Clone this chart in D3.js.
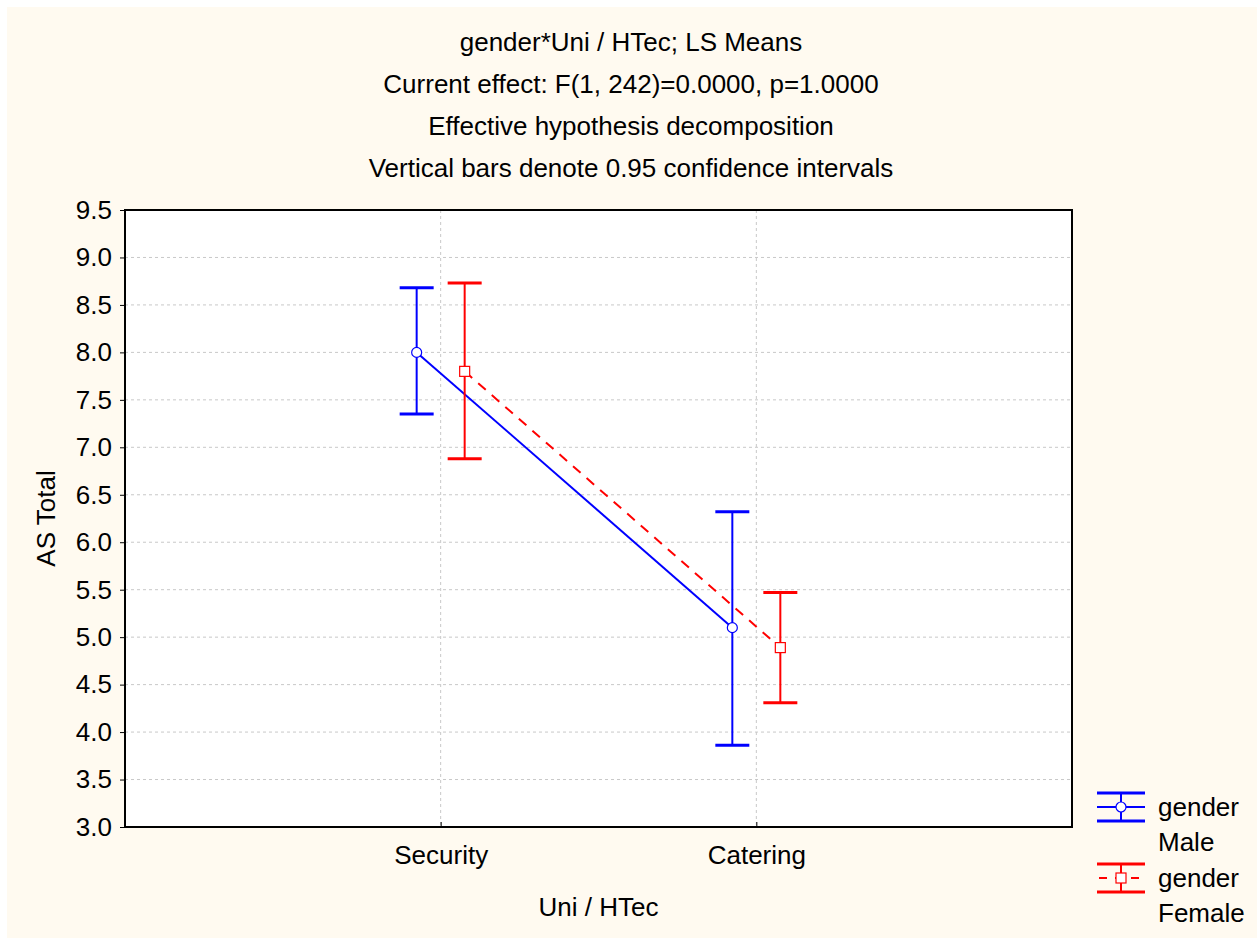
<!DOCTYPE html>
<html>
<head>
<meta charset="utf-8">
<script src="https://cdn.jsdelivr.net/npm/d3@7"></script>
<style>
body { margin: 0; background: #fff; }
text { font-family: "Liberation Sans", Arial, sans-serif; fill: #000; }
</style>
</head>
<body>
<div id="chart"></div>
<script>
var titleLines = ["gender*Uni / HTec; LS Means",
	"Current effect: F(1, 242)=0.0000, p=1.0000",
	"Effective hypothesis decomposition",
	"Vertical bars denote 0.95 confidence intervals"];
var categories = ["Security", "Catering"];
var yTicks = [3.0, 3.5, 4.0, 4.5, 5.0, 5.5, 6.0, 6.5, 7.0, 7.5, 8.0, 8.5, 9.0, 9.5];
var maleMean = [8.00, 5.10];
var maleLow = [7.35, 3.86];
var maleHigh = [8.68, 6.32];
var femaleMean = [7.80, 4.89];
var femaleLow = [6.88, 4.31];
var femaleHigh = [8.73, 5.47];

var width = 1257, height = 938;
var margin = {left: 125, right: 185, top: 210, bottom: 111};
var fontSize = "26px";

var svg = d3.select("#chart").append("svg")
	.attr("width", width)
	.attr("height", height);

svg.append("rect")
	.attr("x", 7).attr("y", 7)
	.attr("width", width - 7).attr("height", height - 7)
	.style("fill", "#fffaf0");

var x = d3.scalePoint()
	.domain(categories)
	.range([margin.left, width - margin.right])
	.padding(1);
var y = d3.scaleLinear()
	.domain([3, 9.5])
	.range([height - margin.bottom, margin.top]);

// titles
svg.selectAll(".title")
	.data(titleLines)
	.enter().append("text")
	.attr("class", "title")
	.attr("x", 631)
	.attr("y", function(d, i){ return 51 + i * 42; })
	.style("text-anchor", "middle")
	.style("font-size", fontSize)
	.text(function(d){ return d; });

// plot bg
svg.append("rect")
	.attr("x", margin.left).attr("y", margin.top)
	.attr("width", width - margin.right - margin.left)
	.attr("height", height - margin.bottom - margin.top)
	.style("fill", "#fff");

// grid
var grid = svg.append("g");
grid.selectAll(".hgrid")
	.data(yTicks.slice(1, -1))
	.enter().append("line")
	.attr("x1", margin.left).attr("x2", width - margin.right)
	.attr("y1", function(d){ return y(d); })
	.attr("y2", function(d){ return y(d); })
	.style("stroke", "#c8c8c8")
	.style("stroke-dasharray", "3,3");
grid.selectAll(".vgrid")
	.data(categories)
	.enter().append("line")
	.attr("x1", function(d){ return x(d); })
	.attr("x2", function(d){ return x(d); })
	.attr("y1", margin.top).attr("y2", height - margin.bottom)
	.style("stroke", "#c8c8c8")
	.style("stroke-dasharray", "3,3");

// axes
var yAxis = svg.append("g")
	.attr("transform", "translate(" + margin.left + ",0)")
	.call(d3.axisLeft(y).tickValues(yTicks).tickFormat(d3.format(".1f")).tickSize(5).tickPadding(8));
var xAxis = svg.append("g")
	.attr("transform", "translate(0," + (height - margin.bottom) + ")")
	.call(d3.axisBottom(x).tickSize(-5).tickPadding(19));
[yAxis, xAxis].forEach(function(a){
	a.select(".domain").remove();
	a.selectAll("line").style("stroke", "#000");
	a.selectAll("text").style("font-size", fontSize).style("font-family", "Liberation Sans, Arial, sans-serif");
});

svg.append("rect")
	.attr("x", margin.left).attr("y", margin.top)
	.attr("width", width - margin.right - margin.left)
	.attr("height", height - margin.bottom - margin.top)
	.style("fill", "none")
	.style("stroke", "#000")
	.style("stroke-width", 2);

svg.append("text")
	.attr("transform", "translate(55," + ((margin.top + height - margin.bottom) / 2) + ") rotate(-90)")
	.style("text-anchor", "middle")
	.style("font-size", fontSize)
	.text("AS Total");
svg.append("text")
	.attr("x", (margin.left + width - margin.right) / 2)
	.attr("y", 916)
	.style("text-anchor", "middle")
	.style("font-size", fontSize)
	.text("Uni / HTec");

// series
var series = [
	{name: "Male", mean: maleMean, low: maleLow, high: maleHigh, color: "#0000ff", off: -24, dash: null, shape: "circle"},
	{name: "Female", mean: femaleMean, low: femaleLow, high: femaleHigh, color: "#ff0000", off: 24, dash: "10,8", shape: "square"}
];

series.forEach(function(s){
	var g = svg.append("g");
	var pts = categories.map(function(c, i){ return {c: c, m: s.mean[i], lo: s.low[i], hi: s.high[i]}; });
	var px = function(d){ return x(d.c) + s.off; };

	g.append("path")
		.datum(pts)
		.attr("d", d3.line().x(px).y(function(d){ return y(d.m); }))
		.style("fill", "none")
		.style("stroke", s.color)
		.style("stroke-width", 2)
		.style("stroke-dasharray", s.dash);

	g.selectAll(".bar").data(pts).enter().append("line")
		.attr("x1", px).attr("x2", px)
		.attr("y1", function(d){ return y(d.lo); })
		.attr("y2", function(d){ return y(d.hi); })
		.style("stroke", s.color).style("stroke-width", 2);
	["lo", "hi"].forEach(function(k){
		g.selectAll(".cap" + k).data(pts).enter().append("line")
			.attr("x1", function(d){ return px(d) - 17; })
			.attr("x2", function(d){ return px(d) + 17; })
			.attr("y1", function(d){ return y(d[k]); })
			.attr("y2", function(d){ return y(d[k]); })
			.style("stroke", s.color).style("stroke-width", 3);
	});
	if (s.shape == "circle") {
		g.selectAll(".mk").data(pts).enter().append("circle")
			.attr("cx", px).attr("cy", function(d){ return y(d.m); })
			.attr("r", 5)
			.style("fill", "#fff").style("stroke", s.color).style("stroke-width", 1.2);
	} else {
		g.selectAll(".mk").data(pts).enter().append("rect")
			.attr("x", function(d){ return px(d) - 5; })
			.attr("y", function(d){ return y(d.m) - 5; })
			.attr("width", 10).attr("height", 10)
			.style("fill", "#fff").style("stroke", s.color).style("stroke-width", 1.2);
	}
});

// legend
var leg = svg.append("g").attr("transform", "translate(1097,807)");
series.forEach(function(s, i){
	var lg = leg.append("g").attr("transform", "translate(0," + (i * 71) + ")");
	lg.append("line").attr("x1", 0).attr("x2", 48).attr("y1", 0).attr("y2", 0)
		.style("stroke", s.color).style("stroke-width", 2).style("stroke-dasharray", s.dash ? "8,8" : null)
		.style("stroke-dashoffset", s.dash ? -2 : null);
	[-14, 14].forEach(function(cy){
		lg.append("line").attr("x1", 0).attr("x2", 48).attr("y1", cy).attr("y2", cy)
			.style("stroke", s.color).style("stroke-width", 3);
	});
	lg.append("line").attr("x1", 24).attr("x2", 24).attr("y1", -14).attr("y2", 14)
		.style("stroke", s.color).style("stroke-width", 2);
	if (s.shape == "circle") {
		lg.append("circle").attr("cx", 24).attr("cy", 0).attr("r", 5)
			.style("fill", "#fff").style("stroke", s.color).style("stroke-width", 1.2);
	} else {
		lg.append("rect").attr("x", 19).attr("y", -5).attr("width", 10).attr("height", 10)
			.style("fill", "#fff").style("stroke", s.color).style("stroke-width", 1.2);
	}
	lg.append("text").attr("x", 61).attr("y", 9).style("font-size", fontSize).text("gender");
	lg.append("text").attr("x", 61).attr("y", 44).style("font-size", fontSize).text(s.name);
});
</script>
</body>
</html>
